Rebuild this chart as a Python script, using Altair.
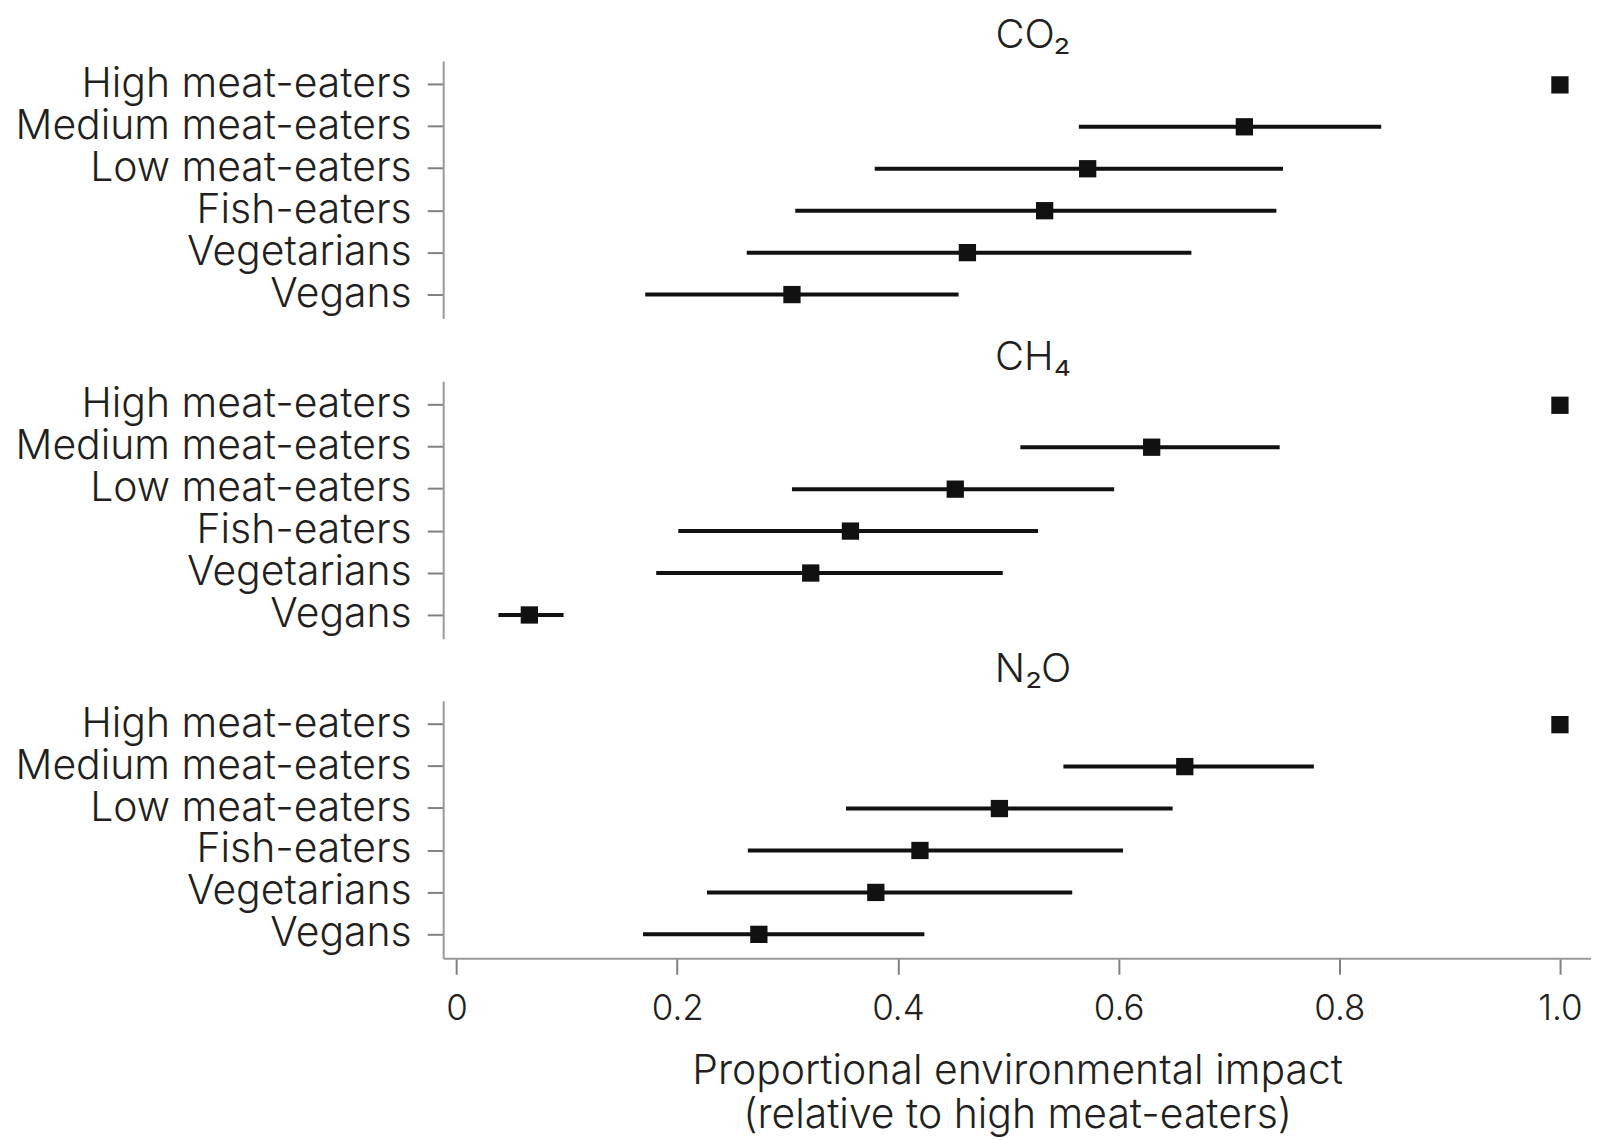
import altair as alt
import pandas as pd

groups = ["High meat-eaters", "Medium meat-eaters", "Low meat-eaters",
          "Fish-eaters", "Vegetarians", "Vegans"]
gases = ["CO₂", "CH₄", "N₂O"]

co2_est = [1.0, 0.714, 0.572, 0.533, 0.463, 0.304]
co2_low = [1.0, 0.564, 0.379, 0.307, 0.263, 0.171]
co2_high = [1.0, 0.838, 0.749, 0.743, 0.666, 0.455]

ch4_est = [1.0, 0.630, 0.452, 0.357, 0.321, 0.066]
ch4_low = [1.0, 0.511, 0.304, 0.201, 0.181, 0.038]
ch4_high = [1.0, 0.746, 0.596, 0.527, 0.495, 0.097]

n2o_est = [1.0, 0.660, 0.492, 0.420, 0.380, 0.274]
n2o_low = [1.0, 0.550, 0.353, 0.264, 0.227, 0.169]
n2o_high = [1.0, 0.777, 0.649, 0.604, 0.558, 0.424]

x_ticks = [0, 0.2, 0.4, 0.6, 0.8, 1.0]
x_title = ["Proportional environmental impact", "(relative to high meat-eaters)"]

FONT = "Inter"
WEIGHT = 300
INK = "#231f20"
DOMAIN_GREY = "#999999"
TICK_GREY = "#808080"
W = 1150
H = 258
x_domain = [-0.0121, -0.0121 + W / 1105.5]


def panel(gas, est, lo, hi, last, title_offset):
    df = pd.DataFrame({"group": groups, "est": est, "lo": lo, "hi": hi})
    xscale = alt.Scale(domain=x_domain, nice=False, zero=False)
    yaxis = alt.Axis(title=None, labelFont=FONT, labelFontSize=41, labelFontWeight=WEIGHT,
                     labelColor=INK, labelLimit=0,
                     labelPadding=16, tickSize=16, tickColor=TICK_GREY, tickWidth=2,
                     domainColor=DOMAIN_GREY, domainWidth=2, grid=False)
    if last:
        xaxis = alt.Axis(values=x_ticks, title=x_title, labelFont=FONT, labelFontSize=35,
                         labelFontWeight=WEIGHT, labelColor=INK, labelPadding=17,
                         tickSize=16, tickColor=TICK_GREY,
                         tickWidth=2, domainColor=DOMAIN_GREY, domainWidth=2, grid=False,
                         labelExpr="datum.value == 0 ? '0' : format(datum.value, '.1f')",
                         titleFont=FONT, titleFontSize=41, titleFontWeight=WEIGHT,
                         titleColor=INK, titlePadding=25, titleLineHeight=45)
    else:
        xaxis = None
    yenc = alt.Y("group:N", sort=groups,
                 scale=alt.Scale(paddingInner=0, paddingOuter=0.07), axis=yaxis)
    rule = alt.Chart(df).mark_rule(strokeWidth=4, color="#111111").encode(
        x=alt.X("lo:Q", scale=xscale, axis=xaxis),
        x2="hi:Q",
        y=yenc,
    )
    pts = alt.Chart(df).mark_point(shape="square", filled=True, size=300,
                                   color="#111111", opacity=1).encode(
        x=alt.X("est:Q", scale=xscale),
        y=alt.Y("group:N", sort=groups),
    )
    return alt.layer(rule, pts).properties(
        width=W, height=H,
        title=alt.TitleParams(gas, font=FONT, fontSize=40, fontWeight=WEIGHT,
                              color=INK, anchor="middle", offset=title_offset, dx=16),
    )


top_two = alt.vconcat(
    panel(gases[0], co2_est, co2_low, co2_high, False, 5),
    panel(gases[1], ch4_est, ch4_low, ch4_high, False, 3),
    spacing=20,
)
chart = alt.vconcat(
    top_two,
    panel(gases[2], n2o_est, n2o_low, n2o_high, True, 11),
    spacing=11,
).properties(
    padding={"left": 6, "top": 7, "right": 0, "bottom": 0},
    background="white",
).configure_view(strokeWidth=0)

chart.save("out.html", embed_options={"renderer": "svg", "actions": False})
